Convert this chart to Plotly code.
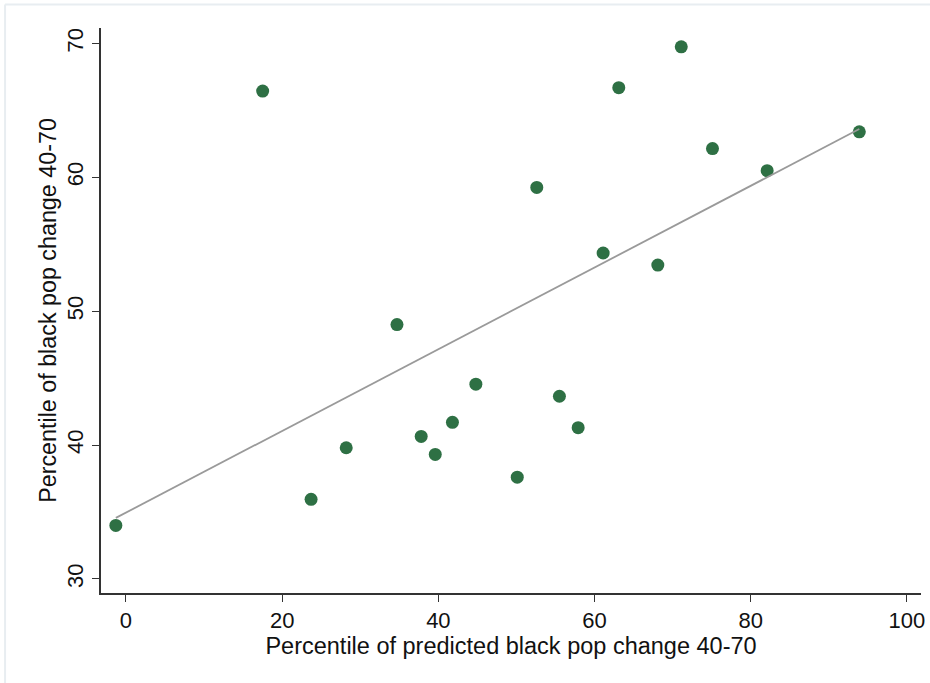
import numpy as np
import plotly.graph_objects as go

# Data
pred_pctile = [-1.3, 17.5, 23.7, 28.2, 34.7, 37.8, 39.6, 41.8, 44.8, 50.1,
               52.6, 55.5, 57.9, 61.1, 63.1, 68.1, 71.1, 75.1, 82.1, 93.9]
actual_pctile = [34.0, 66.45, 35.95, 39.8, 49.0, 40.65, 39.3, 41.7, 44.55, 37.6,
                 59.25, 43.65, 41.3, 54.35, 66.7, 53.45, 69.75, 62.15, 60.5, 63.4]
x_ticks = [0, 20, 40, 60, 80, 100]
y_ticks = [30, 40, 50, 60, 70]

x = np.array(pred_pctile)
y = np.array(actual_pctile)
slope, intercept = np.polyfit(x, y, 1)
fx = np.array([x.min(), x.max()])
fy = intercept + slope * fx

fig = go.Figure()
fig.add_trace(go.Scatter(x=x, y=y, mode="markers",
                         marker=dict(color="#2e7044", size=13, line=dict(width=0)),
                         showlegend=False, hoverinfo="x+y"))
fig.add_trace(go.Scatter(x=fx, y=fy, mode="lines",
                         line=dict(color="#9a9a9a", width=1.8),
                         showlegend=False))

font_family = "Liberation Sans, Arial, Helvetica, sans-serif"
fig.update_layout(
    width=930, height=683,
    margin=dict(l=101, r=9, t=28, b=90),
    paper_bgcolor="white", plot_bgcolor="white",
    font=dict(family=font_family, size=22, color="#111111"),
    xaxis=dict(range=[-3.2, 101.8], tickvals=x_ticks, showgrid=False, zeroline=False,
               automargin=False,
               showline=True, linecolor="#333333", linewidth=1.5,
               ticks="outside", ticklen=7, tickcolor="#333333", tickwidth=1.2,
               tickfont=dict(size=22), title=dict(text="Percentile of predicted black pop change 40-70",
                                                  font=dict(size=23.5), standoff=2)),
    yaxis=dict(range=[28.95, 71.16], tickvals=y_ticks, showgrid=False, zeroline=False,
               automargin=False,
               showline=True, linecolor="#333333", linewidth=1.5,
               ticks="outside", ticklen=7, tickcolor="#333333", tickwidth=1.2,
               tickangle=-90, tickfont=dict(size=22),
               title=dict(text="Percentile of black pop change 40-70", font=dict(size=23.3), standoff=0)),
    shapes=[
        dict(type="line", xref="paper", yref="paper", x0=-0.117, x1=1.02, y0=1.0416, y1=1.0416,
             line=dict(color="#e8edf1", width=2)),
        dict(type="line", xref="paper", yref="paper", x0=-0.117, x1=-0.117, y0=1.0416, y1=-0.2,
             line=dict(color="#e8edf1", width=2)),
    ],
)

fig.write_html("out.html")
